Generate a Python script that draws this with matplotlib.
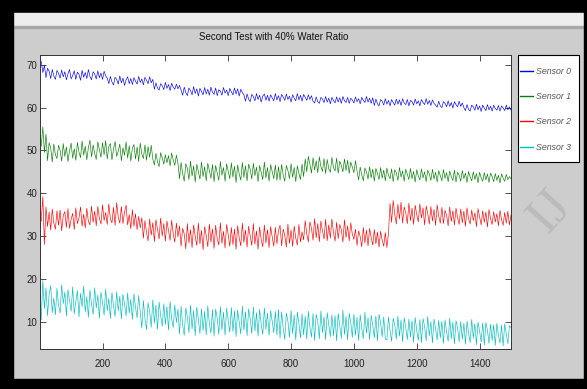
import numpy as np
import matplotlib
matplotlib.use("Agg")
from matplotlib import pyplot as plt
from matplotlib.patches import Rectangle
from matplotlib.lines import Line2D

title = "Second Test with 40% Water Ratio"
labels = ["Sensor 0", "Sensor 1", "Sensor 2", "Sensor 3"]
colors = ["#0000ff", "#008000", "#ff0000", "#00bfbf"]
step = 5  # one value read every 5 samples

sensor0 = [70.8, 68.2, 69.9, 67.0, 69.2, 68.5, 66.8, 68.9, 67.4, 66.6, 68.7, 68.0, 66.9, 68.8, 67.2, 68.4, 66.5, 67.9, 68.9, 66.7,
           67.5, 68.6, 66.6, 68.3, 67.8, 66.4, 68.7, 67.1, 68.2, 66.8, 68.9, 67.3, 66.5, 68.4, 67.9, 66.7, 68.6, 67.0, 68.1, 66.6,
           68.5, 67.4, 66.9,
           65.6, 67.3, 66.0, 65.3, 67.1, 66.6, 65.5, 67.4, 65.8, 66.9, 65.2, 66.5, 67.2, 65.6, 66.8, 65.4, 67.0, 66.2, 65.5, 67.3,
           65.9, 66.7, 65.3, 67.1, 66.4, 65.6, 67.2, 65.8, 66.6,
           64.3, 65.8, 64.6, 64.1, 65.6, 65.1, 64.2, 65.9, 64.5, 65.4, 64.0, 65.7, 64.8, 64.3, 65.5, 64.4, 65.2, 64.1,
           62.9, 64.8, 63.5, 62.8, 64.6, 64.0, 63.0, 64.9, 63.3, 64.4, 62.7, 64.5, 63.8, 63.0, 64.7, 63.2, 64.3, 62.9, 64.8, 63.6,
           63.1, 64.6, 62.8, 64.2, 63.9, 62.9, 64.7, 63.4, 64.1, 62.8, 64.5, 63.7, 63.0, 64.6, 63.2, 64.4, 62.7, 64.3, 63.5, 63.0,
           61.5, 63.2, 62.0, 61.4, 63.1, 62.6, 61.6, 63.3, 61.9, 62.9, 61.3, 62.7, 63.2, 61.7, 62.9, 61.5, 63.0, 62.3, 61.6, 63.3,
           61.8, 62.8, 61.4, 63.1, 62.5, 61.7, 63.2, 61.9, 62.7, 61.3, 63.0, 62.2, 61.6, 63.3, 61.8, 62.9, 61.5, 63.1, 62.4, 61.7,
           63.0, 61.9, 62.8, 61.5,
           61.1, 62.5, 61.4, 61.0, 62.4, 62.0, 61.2, 62.6, 61.3, 62.2, 60.9, 62.4, 61.7, 61.1, 62.5, 61.3, 62.3, 61.0, 62.6, 61.6,
           61.2, 62.4, 61.0, 62.2, 61.8, 61.1, 62.5, 61.4, 62.1, 60.9, 62.4, 61.7, 61.2, 62.6, 61.3, 62.2, 61.0, 62.3,
           60.5, 62.0, 60.9, 60.4, 61.9, 61.5, 60.6, 62.1, 60.8, 61.7, 60.4, 61.9, 61.2, 60.6, 62.0, 60.8, 61.8, 60.5, 62.1, 61.1,
           60.7, 61.9, 60.4, 61.7, 61.4, 60.6, 62.0, 60.9, 61.6, 60.4, 61.9, 61.2, 60.7, 62.1, 60.8, 61.7, 60.5, 61.8, 61.0, 60.6,
           60.1, 61.5, 60.4, 60.0, 61.4, 61.0, 60.2, 61.6, 60.3, 61.2, 59.9, 61.4, 60.7, 60.2, 61.5, 60.3, 61.1, 60.0,
           59.3, 60.7, 59.6, 59.2, 60.6, 60.2, 59.4, 60.8, 59.5, 60.4, 59.1, 60.6, 59.9, 59.3, 60.7, 59.5, 60.3, 59.2, 60.6, 59.8,
           59.4, 60.5, 59.2, 60.4, 59.9, 59.3, 60.6, 59.5, 60.2, 59.4]

sensor1 = [51.0, 55.5, 49.5, 53.8, 47.6, 51.8, 50.6, 47.3, 51.5, 49.0, 48.1, 51.2, 50.0, 47.5, 51.6, 48.6, 50.8, 47.4, 49.9, 51.7,
           48.2, 50.4, 47.7, 51.9, 49.6, 48.3, 52.2, 48.9, 51.0, 47.8, 50.7, 52.4, 48.5, 51.3, 49.3, 47.9, 52.0, 50.2, 48.4, 51.8,
           49.0, 52.3, 48.0, 50.9, 51.6, 47.8, 50.3, 52.1, 48.6, 49.8, 51.5, 47.6, 50.6, 48.9, 52.0, 48.2, 51.1, 47.5, 50.5, 51.4,
           48.0, 50.8, 47.4, 51.7, 49.2, 48.1, 51.3, 47.7, 50.9, 48.4, 51.2, 48.0,
           46.6, 49.3, 47.4, 46.2, 49.5, 48.3, 46.8, 49.0, 47.1, 48.8, 46.4, 49.4, 47.8, 46.5, 48.9, 47.0,
           43.4, 47.2, 44.6, 42.8, 46.9, 45.8, 43.2, 47.5, 44.0, 46.4, 42.6, 46.8, 45.1, 43.3, 47.3, 43.9, 46.2, 42.9, 47.0, 45.4,
           43.5, 46.7, 42.7, 46.5, 44.8, 43.0, 47.4, 44.2, 46.0, 42.8, 46.9, 45.2, 43.4, 47.1, 43.8, 46.3, 42.5, 46.6, 44.5, 43.1,
           47.2, 43.7, 46.4, 42.9, 46.8, 45.6, 43.3, 47.0, 44.1, 46.1, 42.7, 46.5, 44.9, 43.2, 47.3, 43.6, 46.0, 42.8, 46.7, 45.0,
           43.4, 46.6, 43.0, 46.2,
           43.1, 46.7, 44.2, 42.8, 46.5, 45.3, 43.4, 46.9, 43.7, 46.0, 42.7, 46.4, 44.6, 43.2, 46.8, 43.9,
           48.0, 45.0, 48.6, 46.8, 44.7, 48.3, 45.4, 47.6, 44.8, 48.5, 46.2, 45.1, 48.1, 44.6, 47.9, 45.7, 44.9, 48.4, 46.0, 45.2,
           48.2, 44.7, 47.5, 46.5, 45.0, 48.0, 45.3, 47.7, 44.6, 47.3, 46.1, 44.8, 47.6, 45.2,
           43.1, 46.1, 44.3, 42.9, 45.9, 45.0, 43.3, 46.2, 43.6, 45.6, 42.8, 45.8, 44.6, 43.2, 46.0, 43.5, 45.4, 42.9, 45.9, 44.2,
           43.4, 45.7, 42.7, 45.5, 44.8, 43.0, 46.0, 43.8, 45.2, 42.8, 45.6, 44.4, 43.2, 45.8, 43.4, 45.1, 42.6, 45.5, 44.0, 43.1,
           45.7, 43.6, 45.0, 42.7, 45.4, 44.5, 43.0, 45.6, 43.3, 44.9, 42.6, 45.3, 44.1, 42.9, 45.5, 43.5, 44.8, 42.7, 45.2, 43.9,
           43.0, 45.4, 42.6, 44.9, 44.2, 42.8, 45.3, 43.4, 44.7, 42.5, 45.1, 43.8, 42.9, 45.0, 43.2, 44.6, 42.4, 44.9, 43.6, 42.8,
           44.8, 43.1, 44.5, 42.5, 44.7, 43.9, 42.7, 44.6, 43.0, 44.2, 42.4, 44.5, 43.5, 42.8, 44.4, 43.2, 43.9, 43.4]

sensor2 = [33.5, 39.2, 28.0, 36.8, 32.2, 35.6, 31.4, 36.3, 33.0, 31.6, 35.9, 32.5, 36.1, 31.2, 34.8, 35.7, 32.0, 36.4, 31.8, 33.9,
           35.3, 31.5, 36.6, 32.9, 34.2, 36.8, 32.3, 35.1, 31.9, 36.5, 33.4, 32.6, 37.0, 33.2, 35.8, 32.4, 36.9, 34.1, 32.8, 37.3,
           33.6, 35.5, 32.7, 37.5, 34.0, 33.1, 36.7, 32.5, 37.8, 34.4, 33.0, 36.9, 32.9, 35.6, 37.2, 32.6, 35.0, 31.7, 36.1, 32.3,
           35.2, 31.5, 34.6, 31.9,
           34.3, 29.5, 33.6, 30.8, 28.9, 34.0, 30.2, 33.1, 28.7, 33.8, 31.6, 29.3, 34.2, 30.0, 32.9, 28.8, 33.5, 31.2, 29.0, 33.7,
           30.4, 28.6, 33.0, 29.8,
           32.4, 27.6, 31.8, 30.5, 27.0, 32.9, 28.4, 31.5, 27.3, 32.6, 29.9, 27.8, 33.0, 28.2, 31.3, 26.8, 32.2, 30.1, 27.5, 32.8,
           28.6, 31.7, 27.1, 32.5, 29.4, 27.9, 33.1, 28.3, 31.1, 27.2, 32.7, 30.3, 27.6, 32.0, 28.0, 31.6, 26.9, 32.4, 29.6, 27.7,
           33.0, 28.5, 31.4, 27.4, 32.3, 30.0, 27.8, 32.9, 28.1, 31.2, 26.9, 32.1, 29.2, 27.5, 32.6, 28.4, 31.5, 27.3, 32.2, 29.8,
           27.6, 32.0, 28.2, 31.3,
           32.5, 27.7, 31.6, 30.2, 27.4, 32.8, 28.3, 31.4, 27.6, 32.3, 29.5, 27.9, 32.7, 28.6, 31.0,
           29.1, 33.6, 30.5, 28.6, 33.3, 31.8, 29.0, 34.1, 29.6, 32.9, 28.7, 33.5, 31.2, 29.3, 33.9, 28.9, 32.6, 29.5, 34.0, 30.8,
           28.8, 33.2, 29.4, 32.7, 31.5, 28.6, 33.8, 29.7, 32.4, 28.9, 33.1, 30.4, 29.2,
           31.6, 27.8, 31.2, 29.9, 27.5, 32.0, 28.4, 31.4, 27.7, 31.8, 29.6, 27.9, 31.5, 28.2, 30.9, 27.4, 31.1, 29.0, 27.6, 30.8,
           27.3, 30.6,
           37.6, 33.2, 38.3, 35.1, 32.8, 37.4, 34.0, 37.9, 33.0, 36.8, 35.5, 32.9, 37.7, 33.6, 36.5, 32.7, 37.2, 35.0, 33.3, 37.5,
           34.2, 36.6, 32.6, 37.0, 35.3, 32.8, 36.9, 33.5, 36.2, 32.5, 37.3, 34.6, 33.0, 36.7, 32.9, 36.0, 34.8, 32.4, 36.8, 33.4,
           35.9, 32.6, 36.5, 34.3, 32.7, 36.3, 33.1, 35.8, 32.3, 36.6, 34.0, 32.8, 36.1, 33.6, 35.4, 32.2, 36.4, 34.5, 32.6, 35.9,
           33.2, 35.6, 32.1, 36.2, 34.1, 32.7, 35.7, 33.3, 35.2, 32.4, 36.0, 33.8, 32.5, 35.5, 33.0, 35.8, 32.6, 34.9]

sensor3 = [10.5, 19.6, 13.0, 17.9, 11.4, 16.3, 18.4, 12.1, 15.5, 11.6, 17.8, 13.8, 12.0, 18.6, 14.2, 16.9, 11.3, 17.5, 15.0, 12.4,
           18.1, 11.8, 14.7, 17.2, 11.1, 16.6, 13.5, 18.3, 12.2, 15.8, 11.0, 17.4, 14.0, 11.7, 17.9, 13.2, 16.2, 10.8, 16.9, 14.5,
           11.5, 17.6, 12.6, 15.4, 10.7, 16.8, 13.7, 11.2, 17.0, 12.5, 15.9, 10.6, 16.4, 14.1, 11.3, 16.7, 12.0, 15.2, 10.5, 16.5,
           13.3, 10.9, 16.1, 12.4,
           8.5, 14.9, 10.8, 8.1, 14.4, 12.3, 8.7, 15.1, 9.6, 13.8, 8.2, 14.6, 11.5, 8.9, 14.2, 9.3, 13.5, 8.0, 14.7, 10.6,
           8.6, 13.9, 9.8, 12.9,
           7.1, 13.6, 9.2, 6.8, 13.2, 11.0, 7.4, 13.9, 8.3, 12.6, 6.7, 13.4, 10.5, 7.2, 13.0, 7.9, 12.4, 6.9, 13.7, 9.6,
           7.3, 12.8, 6.6, 12.9, 10.8, 7.0, 13.5, 8.1, 12.2, 6.8, 13.1, 10.2, 7.5, 13.3, 7.7, 12.5, 6.5, 12.7, 9.9, 7.1,
           13.6, 8.0, 12.3, 6.7, 13.0, 10.6, 7.2, 13.4, 7.8, 12.1, 6.6, 12.9, 9.4, 7.0, 13.2, 8.2, 12.0, 6.8, 12.6, 10.1,
           7.4, 12.4, 6.9, 12.8,
           6.1, 12.3, 8.4, 5.8, 12.0, 10.1, 6.3, 12.6, 7.2, 11.5, 5.7, 12.2, 9.6, 6.2, 11.8, 6.9, 11.3, 5.9, 12.4, 8.7,
           6.4, 11.9, 5.6, 11.7, 10.0, 6.0, 12.5, 7.4, 11.1, 5.8, 12.1, 9.3, 6.5, 11.6, 6.7, 11.4, 5.5, 11.9, 8.9, 6.1,
           12.7, 7.0, 11.2, 5.7, 12.0, 9.8, 6.3, 11.8, 6.8, 11.0, 5.6, 11.6, 8.5, 6.0, 12.2, 7.3, 10.9, 5.8, 11.5, 9.2,
           6.2, 11.3, 5.5, 11.7, 9.7, 6.4, 11.1, 5.9,
           5.7, 11.1, 7.8, 5.4, 10.8, 9.2, 5.9, 11.3, 6.6, 10.4, 5.3, 10.9, 8.6, 5.8, 10.6, 6.4, 10.2, 5.2, 11.0, 7.9,
           5.6, 10.5, 5.1, 10.7, 8.9, 5.5, 11.2, 6.7, 10.0, 5.0, 10.6, 8.3, 5.7, 10.3, 6.2, 10.1, 4.9, 10.4, 7.6, 5.4,
           10.8, 6.0, 9.9, 4.8, 10.2, 8.5, 5.3, 10.0, 5.9, 9.6, 4.7, 10.1, 7.3, 5.1, 10.5, 6.1, 9.5, 4.6, 9.9, 7.8,
           5.2, 9.7, 4.5, 9.8, 8.0, 4.9, 9.4, 5.6, 9.3, 4.4, 9.6, 6.8, 5.0, 9.2, 4.3, 9.5, 7.1, 4.8, 9.0, 8.6]

xticks = [200, 400, 600, 800, 1000, 1200, 1400]
yticks = [10, 20, 30, 40, 50, 60, 70]

W, H = 587, 389
fnt = ["Liberation Sans", "DejaVu Sans"]

fig = plt.figure(figsize=(W / 100, H / 100), dpi=100)
fig.patch.set_facecolor("#cdcdcd")

# screenshot frame: black borders and the toolbar strip (drawn under the axes)
def frame(x0, y0, x1, y1, **kw):
    fig.patches.append(Rectangle((x0 / W, 1 - y1 / H), (x1 - x0) / W, (y1 - y0) / H,
                                 transform=fig.transFigure, zorder=-1, **kw))

frame(0, 0, W, 13, color="black")
frame(13, 13, 584, 26, color="#eeeeee")
frame(13, 26, 584, 27.5, color="#a8a8a8")
frame(0, 0, 13, H, color="black")
frame(584, 0, W, H, color="black")
frame(0, 379, W, H, color="black")
# legend box
frame(518, 55, 579, 162, facecolor="white", edgecolor="black", lw=0.8)

ax = fig.add_axes([40 / W, 1 - 349 / H, 471 / W, 294 / H])
for vals, col, lab in zip([sensor0, sensor1, sensor2, sensor3], colors, labels):
    xs = step * np.arange(1, len(vals) + 1)
    ax.plot(xs, vals, color=col, lw=0.45, label=lab)

ax.set_xlim(1, 1500)
ax.set_ylim(3.6, 72.3)
ax.set_xticks(xticks)
ax.set_yticks(yticks)
ax.tick_params(direction="in", length=4, width=0.6, top=True, right=True,
               labelsize=7, labelcolor="#222222", color="#333333")
ax.tick_params(axis="x", pad=7)
ax.tick_params(axis="y", pad=2)
for t in ax.get_xticklabels() + ax.get_yticklabels():
    t.set_family(fnt)
for s in ax.spines.values():
    s.set_linewidth(0.7)
    s.set_color("#333333")

fig.text(274 / W, 1 - 37 / H, title, ha="center", va="center", fontsize=7,
         family=fnt, color="#111111")

handles = [Line2D([], [], color=c, lw=1.0) for c in colors]
leg = ax.legend(handles, labels, loc="upper left", bbox_to_anchor=(520 / W, 1 - 67 / H),
                bbox_transform=fig.transFigure, frameon=False, borderaxespad=0,
                borderpad=0, handlelength=1.5, handletextpad=0.3, labelspacing=1.85,
                prop={"family": fnt, "size": 6.3, "style": "italic"})
for t in leg.get_texts():
    t.set_color("#555555")

# faint watermark at the right edge
fig.text(550 / W, 1 - 212 / H, "IJ", rotation=48, fontsize=38, family="Liberation Serif",
         color="#b4b4b4", alpha=0.7, ha="center", va="center", zorder=5)

fig.savefig("out.png", dpi=100, facecolor=fig.get_facecolor())
